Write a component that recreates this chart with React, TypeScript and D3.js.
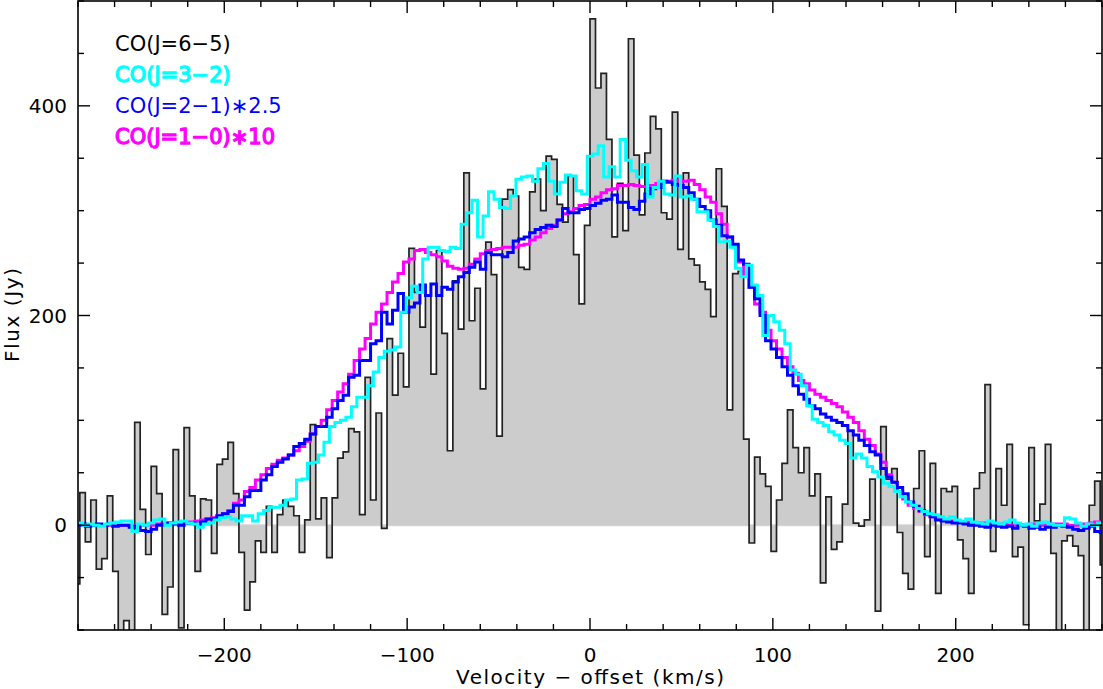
import React from "react";
import * as d3 from "d3";

// Channel grid (km/s): channel i spans [V_START + i*CHAN, V_START + (i+1)*CHAN]
const V_START = -282;
const CHAN = 3;
const CYAN_OFFSET = -1.5; // CO(3-2) channels are shifted by half a channel

// CO(J=6-5) flux (Jy), gray filled histogram
const CO65 = [
  -56, 31, -16, 24, -42, -32, 28, -44, -115, -91,
  -115, 98, 15, -28, 56, 30, -85, -59, 72, -98,
  93, 28, -44, 25, 24, -27, 58, 63, 79, 30,
  -26, -81, -54, -15, -26, 18, -26, 10, 24, 18,
  9, -26, 5, 96, 6, 26, -31, 26, 64, 70,
  92, 89, 10, 141, 24, 107, -3, 178, 124, 164,
  132, 264, 222, 189, 219, 144, 262, 183, 71, 233,
  187, 336, 195, 226, 130, 270, 239, 85, 311, 320,
  314, 246, 244, 318, 330, 300, 352, 349, 306, 289,
  333, 258, 211, 286, 483, 417, 431, 368, 275, 326,
  281, 464, 353, 296, 355, 390, 378, 298, 292, 394,
  263, 336, 254, 248, 232, 225, 199, 340, 304, 110,
  240, 242, 82, -17, 65, 49, 37, -25, 24, 59,
  110, 74, 50, 74, 28, 49, -55, 27, -23, -16,
  20, 90, 2, -1, 5, 44, -82, 94, 44, 54,
  -7, -46, -61, 35, 71, -30, 59, -65, 35, 32,
  37, -14, -32, -65, 35, 50, 134, -25, 54, 19,
  77, -30, -21, -95, 74, 4, 20, 77, -27, -115,
  -15, -10, -20, -29, -105, 19, 42, -38,
];

// CO(J=3-2) flux (Jy), cyan
const CO32 = [
  1, 2, 0, 1, 0, -1, 1, 2, 3, 4,
  4, -6, 1, 0, 2, 5, 6, 0, 2, 3,
  4, 2, 1, -2, 1, 2, 5, 7, 8, 6,
  4, 9, 9, 4, 11, 14, 17, 17, 19, 24,
  25, 43, 44, 59, 60, 67, 79, 94, 98, 100,
  103, 113, 122, 122, 133, 146, 160, 166, 167, 170,
  203, 217, 228, 222, 254, 265, 265, 262, 261, 265,
  264, 287, 298, 310, 275, 295, 318, 311, 303, 302,
  314, 330, 332, 333, 328, 340, 345, 328, 316, 327,
  334, 333, 319, 316, 352, 354, 362, 332, 342, 332,
  368, 348, 338, 332, 344, 313, 322, 328, 316, 315,
  333, 313, 314, 311, 299, 299, 291, 285, 270, 271,
  265, 245, 237, 248, 229, 219, 181, 200, 194, 186,
  173, 148, 144, 133, 114, 101, 98, 95, 89, 86,
  81, 78, 64, 68, 64, 56, 51, 46, 40, 37,
  32, 27, 22, 19, 16, 13, 11, 10, 8, 6,
  8, 5, 4, 6, 3, 2, 1, 4, 2, 1,
  3, 5, 2, 0, 1, -1, 2, 3, 1, 0,
  0, 7, 6, 2, -1, 1, 0, 2,
];

// CO(J=2-1) flux x 2.5 (Jy), blue
const CO21 = [
  0, 1, -1, 0, 1, 0, 1, -1, 0, 0,
  -2, -1, -5, -6, -4, 0, 1, 2, 1, 0,
  2, 2, 1, 3, 6, 6, 9, 11, 13, 19,
  19, 27, 33, 33, 43, 48, 56, 60, 63, 67,
  75, 78, 82, 87, 94, 94, 103, 111, 119, 124,
  141, 143, 157, 157, 173, 176, 203, 192, 205, 221,
  203, 208, 212, 229, 219, 230, 219, 227, 225, 232,
  237, 241, 246, 251, 244, 260, 258, 258, 256, 260,
  271, 273, 275, 279, 282, 284, 286, 285, 291, 302,
  298, 298, 301, 302, 305, 307, 310, 311, 315, 308,
  308, 303, 301, 309, 316, 321, 322, 328, 327, 325,
  324, 322, 317, 311, 304, 300, 291, 286, 276, 275,
  268, 253, 249, 227, 216, 200, 176, 168, 160, 151,
  143, 133, 125, 120, 114, 111, 106, 103, 100, 98,
  95, 90, 86, 81, 76, 70, 67, 54, 46, 41,
  36, 30, 22, 18, 14, 11, 8, 5, 4, 3,
  2, 2, 1, 0, 0, -1, -2, 0, -1, -2,
  -1, -3, 0, -1, -3, -2, -4, -2, -2, 0,
  -1, -2, -4, -5, -3, -1, -6, -7,
];

// CO(J=1-0) flux x 10 (Jy), magenta
const CO10 = [
  0, 0, 0, 0, 0, 0, 0, 0, 0, 0,
  0, 0, 0, 0, 0, 1, 1, 2, 2, 2,
  3, 3, 4, 5, 6, 7, 9, 11, 14, 21,
  24, 32, 36, 43, 48, 54, 58, 62, 64, 67,
  71, 75, 80, 87, 94, 100, 110, 119, 127, 135,
  144, 157, 168, 178, 192, 203, 211, 222, 232, 240,
  251, 254, 262, 263, 260, 258, 256, 252, 247, 245,
  244, 245, 249, 254, 259, 262, 263, 264, 265, 265,
  265, 267, 268, 272, 275, 279, 283, 286, 291, 297,
  299, 302, 305, 306, 311, 313, 317, 320, 321, 324,
  324, 325, 324, 323, 323, 324, 326, 328, 328, 329,
  328, 328, 329, 325, 320, 313, 308, 297, 287, 275,
  267, 251, 240, 227, 211, 203, 186, 176, 168, 160,
  151, 145, 138, 135, 129, 125, 122, 119, 116, 113,
  108, 103, 98, 90, 82, 76, 68, 60, 48, 41,
  32, 25, 19, 16, 13, 10, 8, 6, 5, 4,
  4, 3, 3, 2, 2, 2, 1, 1, 1, 1,
  0, 0, 0, 0, 1, 0, 0, 0, 1, 1,
  1, 0, 0, 0, 1, 2, 3, 3,
];

const X_DOMAIN = [-280, 280];
const Y_DOMAIN = [-100, 500];
const X_LABELS = [-200, -100, 0, 100, 200];
const Y_LABELS = [0, 200, 400];
const LEGEND = [
  { text: "CO(J=6\u22125)", color: "#000000", bold: false },
  { text: "CO(J=3\u22122)", color: "#00ffff", bold: true },
  { text: "CO(J=2\u22121)\u22172.5", color: "#0000ff", bold: false },
  { text: "CO(J=1\u22120)\u221710", color: "#ff00ff", bold: true },
];

const FONT = "'DejaVu Sans', Verdana, sans-serif";
const fmt = (v: number) => (v < 0 ? "\u2212" + Math.abs(v) : String(v));

export default function App() {
  const left = 78, right = 1102, top = 1, bottom = 630;
  const x = d3.scaleLinear().domain(X_DOMAIN).range([left, right]);
  const y = d3.scaleLinear().domain(Y_DOMAIN).range([bottom, top]);

  const steps = (vals: number[], shift: number) => {
    const pts: [number, number][] = vals.map((v, i) => [V_START + shift + i * CHAN, v]);
    pts.push([V_START + shift + vals.length * CHAN, vals[vals.length - 1]]);
    return pts;
  };
  const line = d3
    .line<[number, number]>()
    .x((d) => x(d[0]))
    .y((d) => y(d[1]))
    .curve(d3.curveStepAfter);
  const area = d3
    .area<[number, number]>()
    .x((d) => x(d[0]))
    .y0(y(0))
    .y1((d) => y(d[1]))
    .curve(d3.curveStepAfter);

  const grayPts = steps(CO65, 0);
  const xMinor = d3.range(-280, 281, 20);
  const yMinor = d3.range(-100, 501, 50);
  const isXMajor = (v: number) => v % 100 === 0;
  const isYMajor = (v: number) => v % 200 === 0;
  const MAJ = 12, MIN = 6;

  return (
    <svg
      width={1103}
      height={689}
      style={{ position: "absolute", left: 0, top: 0, background: "#fff" }}
      fontFamily={FONT}
    >
      <defs>
        <clipPath id="plotclip">
          <rect x={left} y={top} width={right - left} height={bottom - top} />
        </clipPath>
      </defs>
      <rect x={0} y={0} width={1103} height={689} fill="#ffffff" />
      <g clipPath="url(#plotclip)">
        <line x1={left} x2={right} y1={y(0)} y2={y(0)} stroke="#d6d6d6" strokeWidth={2} />
        <path d={area(grayPts) || ""} fill="#cccccc" stroke="none" />
        <path d={line(grayPts) || ""} fill="none" stroke="#222" strokeWidth={1.7} />
        <path d={line(steps(CO10, 0)) || ""} fill="none" stroke="#ff00ff" strokeWidth={3} />
        <path d={line(steps(CO21, 0)) || ""} fill="none" stroke="#0000ff" strokeWidth={3} />
        <path d={line(steps(CO32, CYAN_OFFSET)) || ""} fill="none" stroke="#00ffff" strokeWidth={3} />
      </g>
      <rect
        x={left}
        y={top}
        width={right - left}
        height={bottom - top}
        fill="none"
        stroke="#000"
        strokeWidth={1.6}
      />
      {xMinor.map((v) => {
        const len = isXMajor(v) ? MAJ : MIN;
        return (
          <g key={"xt" + v}>
            <line x1={x(v)} x2={x(v)} y1={bottom} y2={bottom - len} stroke="#000" strokeWidth={1.4} />
            <line x1={x(v)} x2={x(v)} y1={top} y2={top + len} stroke="#000" strokeWidth={1.4} />
          </g>
        );
      })}
      {yMinor.map((v) => {
        const len = isYMajor(v) ? MAJ : MIN;
        return (
          <g key={"yt" + v}>
            <line x1={left} x2={left + len} y1={y(v)} y2={y(v)} stroke="#000" strokeWidth={1.4} />
            <line x1={right} x2={right - len} y1={y(v)} y2={y(v)} stroke="#000" strokeWidth={1.4} />
          </g>
        );
      })}
      {X_LABELS.map((v) => (
        <text key={"xl" + v} x={x(v)} y={662} textAnchor="middle" fontSize={20} fill="#000">
          {fmt(v)}
        </text>
      ))}
      {Y_LABELS.map((v) => (
        <text key={"yl" + v} x={67} y={y(v) + 7} textAnchor="end" fontSize={20} fill="#000">
          {fmt(v)}
        </text>
      ))}
      <text x={590} y={684} textAnchor="middle" fontSize={20} fill="#000" textLength={268}>
        {"Velocity \u2212 offset (km/s)"}
      </text>
      <text
        transform={`translate(19, 315) rotate(-90)`}
        textAnchor="middle"
        fontSize={20}
        fill="#000"
        textLength={94}
      >
        Flux (Jy)
      </text>
      {LEGEND.map((l, i) => (
        <text
          key={l.text}
          x={115}
          y={51 + i * 31}
          fontSize={21}
          fill={l.color}
          stroke={l.bold ? l.color : "none"}
          strokeWidth={l.bold ? 1.3 : 0}
        >
          {l.text}
        </text>
      ))}
    </svg>
  );
}
